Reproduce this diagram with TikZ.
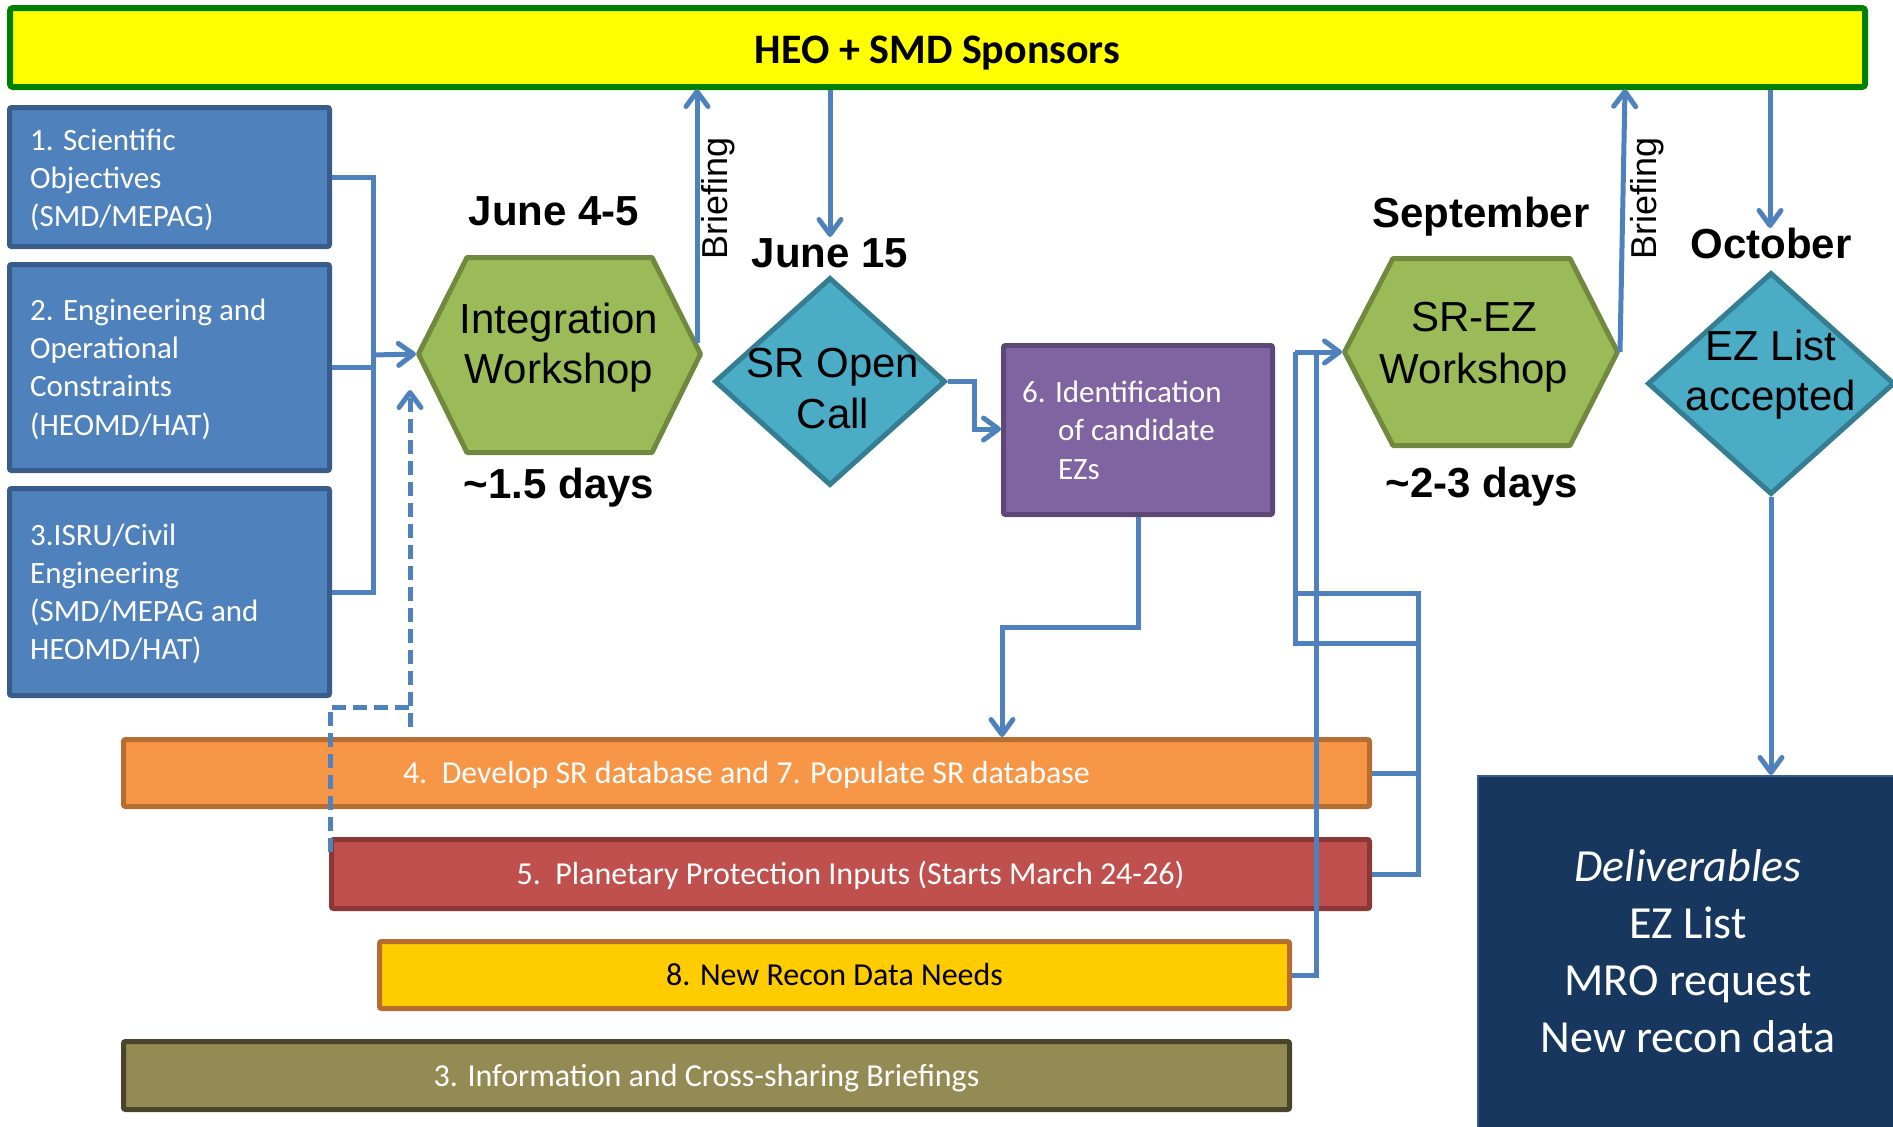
\documentclass[tikz,border=0pt]{standalone}
\usepackage{fontspec}
\setmainfont{Carlito}
\newfontfamily\arialf{Liberation Sans}
\usetikzlibrary{arrows.meta,shapes.geometric}
\definecolor{blueF}{HTML}{4F81BD}
\definecolor{blueD}{HTML}{385D8A}
\definecolor{greenF}{HTML}{9BBB59}
\definecolor{greenD}{HTML}{71893F}
\definecolor{tealF}{HTML}{4BACC6}
\definecolor{tealD}{HTML}{357D91}
\definecolor{purpF}{HTML}{8064A2}
\definecolor{purpD}{HTML}{5C4776}
\definecolor{orF}{HTML}{F79646}
\definecolor{orD}{HTML}{B66D31}
\definecolor{redF}{HTML}{C0504D}
\definecolor{redD}{HTML}{8C3836}
\definecolor{yelF}{HTML}{FFCC00}
\definecolor{oliveF}{HTML}{948A54}
\definecolor{oliveD}{HTML}{4A452A}
\definecolor{navyF}{HTML}{17375E}
\definecolor{sponsF}{HTML}{FFFF00}
\definecolor{sponsD}{HTML}{008000}
\definecolor{connC}{HTML}{4F81BD}
\begin{document}
\begin{tikzpicture}[x=1pt,y=-1pt,
  conn/.style={draw=connC, line width=5pt},
  tipV/.tip={Straight Barb[length=15pt,width=22pt,line width=5pt,round]},
  arr/.style={conn, -tipV},
  dashconn/.style={conn, dash pattern=on 14pt off 7pt},
  boxbase/.style={rectangle, rounded corners=2pt, line width=5pt, inner sep=0pt, outer sep=2.5pt},
  bluebox/.style={boxbase, fill=blueF, draw=blueD},
  barbox/.style={boxbase, font=\fontsize{32}{38}\selectfont, text height=21pt, text depth=0pt},
  hexshape/.style={fill=greenF, draw=greenD, line width=5pt, line join=round},
  diashape/.style={diamond, fill=tealF, draw=tealD, line width=5pt, inner sep=0pt, outer sep=2.5pt},
  bluetxt/.style={anchor=base west, inner sep=0pt, text=white},
  bigtxt/.style={anchor=base, inner sep=0pt, font=\arialf\fontsize{42}{50}\selectfont},
  datelbl/.style={anchor=base, inner sep=0pt, font=\arialf\bfseries\fontsize{42}{50}\selectfont},
  brieflbl/.style={inner sep=0pt, rotate=90, font=\arialf\fontsize{36}{40}\selectfont}
]
\useasboundingbox (0,0) rectangle (1893,1127);

% sponsors bar
\node[boxbase, rounded corners=3pt, line width=6pt, outer sep=3pt, fill=sponsF, draw=sponsD,
      minimum width=1855pt, minimum height=79pt,
      font=\bfseries\fontsize{42}{50}\selectfont, text height=31pt, text depth=0pt] (spons) at (937.5,47.5) {HEO + SMD Sponsors};

% blue input boxes
\node[bluebox, minimum width=320pt, minimum height=139pt] (b1) at (169.5,177) {};
\node[bluebox, minimum width=320pt, minimum height=206pt] (b2) at (169.5,367.5) {};
\node[bluebox, minimum width=320pt, minimum height=207pt] (b3) at (169.5,592) {};
\node[bluetxt] (t1) at (30,150.7) {\parbox[t]{300pt}{\raggedright\fontsize{31}{38}\selectfont 1. Scientific\\Objectives\\(SMD/MEPAG)}};
\node[bluetxt] (t2) at (30,320.7) {\parbox[t]{300pt}{\raggedright\fontsize{31}{38.1}\selectfont 2. Engineering and\\Operational\\Constraints\\(HEOMD/HAT)}};
\node[bluetxt] (t3) at (30,545) {\parbox[t]{300pt}{\raggedright\fontsize{31}{38.3}\selectfont 3.ISRU/Civil\\Engineering\\(SMD/MEPAG and\\HEOMD/HAT)}};

% integration workshop hexagon
\coordinate (h1W) at (416,354);
\coordinate (h1E) at (703,354);
\draw[hexshape] (418.5,354) -- (467,257.5) -- (652,257.5) -- (700.5,354) -- (652,452.5) -- (467,452.5) -- cycle;
\node[bigtxt] (h1) at (559,333) {\parbox[t]{280pt}{\centering\fontsize{42}{50}\selectfont Integration\\Workshop}};
\node[datelbl] (l1) at (554,225) {June 4-5};
\node[datelbl] (l2) at (559,498) {\textasciitilde1.5 days};

% SR open call diamond
\node[diashape, minimum width=231pt, minimum height=208pt] (dm1) at (830,381.5) {};
\node[bigtxt] (dm1t) at (833,377) {\parbox[t]{220pt}{\centering\fontsize{42}{51}\selectfont SR Open\\Call}};
\node[datelbl] (l3) at (830,267) {June 15};

% purple box
\node[boxbase, fill=purpF, draw=purpD, minimum width=269pt, minimum height=169pt] (p6) at (1138,430) {};
\node[bluetxt] (p6t) at (1022,402) {\parbox[t]{250pt}{\raggedright\fontsize{31}{38.5}\selectfont 6. Identification\\\hspace*{36pt}of candidate\\\hspace*{36pt}EZs}};

% SR-EZ workshop hexagon
\coordinate (h2W) at (1342,352);
\coordinate (h2E) at (1620,352);
\draw[hexshape] (1344.5,352) -- (1393,258.5) -- (1570,258.5) -- (1617.5,352) -- (1570,445.5) -- (1393,445.5) -- cycle;
\node[bigtxt] (h2) at (1474,331) {\parbox[t]{280pt}{\centering\fontsize{42}{52}\selectfont SR-EZ\\Workshop}};
\node[datelbl] (l4) at (1481,227) {September};
\node[datelbl] (l5) at (1482,497) {\textasciitilde2-3 days};

% EZ list diamond
\node[diashape, minimum width=247pt, minimum height=222pt] (dm2) at (1771,383.5) {};
\node[bigtxt] (dm2t) at (1771,360) {\parbox[t]{240pt}{\centering\fontsize{42}{50}\selectfont EZ List\\accepted}};
\node[datelbl] (l6) at (1771,258) {October};

% bars
\node[barbox, fill=orF, draw=orD, text=white, minimum width=1246pt, minimum height=67pt] (o4) at (746.5,773) {4.\ \ Develop SR database and 7. Populate SR database};
\node[barbox, fill=redF, draw=redD, text=white, minimum width=1038pt, minimum height=69pt] (r5) at (850.5,874) {5.\ \ Planetary Protection Inputs (Starts March 24-26)};
\node[barbox, fill=yelF, draw=orD, text=black, minimum width=910pt, minimum height=67pt] (y8) at (834.5,975) {8. New Recon Data Needs};
\node[barbox, fill=oliveF, draw=oliveD, text=white, minimum width=1166pt, minimum height=68pt] (ol3) at (706.5,1075.5) {3. Information and Cross-sharing Briefings};

% deliverables
\node[rectangle, fill=navyF, draw=blueD, line width=2pt, inner sep=0pt, outer sep=1pt,
      minimum width=417pt, minimum height=354pt] (dlv) at (1686.5,953) {};
\node[anchor=base, inner sep=0pt, text=white] (dlvt) at (1688,881) {\parbox[t]{400pt}{\centering\fontsize{46}{57.3}\selectfont \textit{Deliverables}\\EZ List\\MRO request\\New recon data}};

% briefing labels
\node[brieflbl] (bf1) at (718,198.5) {Briefing};
\node[brieflbl] (bf2) at (1647,198.5) {Briefing};

% connectors: inputs to integration workshop
\coordinate (j1) at (373,355);
\draw[conn] (b1.east) -- ++(41,0) |- (b3.east);
\draw[conn] (b2.east) -- (b2.east -| j1);
\draw[arr] (j1) -- (h1W);
\coordinate (d1s) at (410,727);
\coordinate (d1t) at (410,390);
\coordinate (d2s) at (330,852);
\coordinate (d2m) at (330,707);
\coordinate (d2e) at (410,707);
\draw[dashconn, -tipV] (d1s) -- (d1t);
\draw[dashconn] (d2s) -- (d2m) -- (d2e);

% briefing 1 and sponsor to June 15
\coordinate (br1s) at (697,343);
\coordinate (br1t) at (697,89);
\draw[arr] (br1s) -- (br1t);
\coordinate (s1) at (830,90);
\coordinate (s1t) at (830,237);
\draw[arr] (s1) -- (s1t);

% SR open call to purple
\coordinate (p6in) at (1001,429);
\draw[arr] (dm1.east) -- ++(26,0) |- (p6in);

% purple to orange bar
\coordinate (o4in) at (1002,737);
\draw[arr] (p6.south) -- ++(0,110) -| (o4in);

% bars to SR-EZ workshop
\coordinate (jv) at (1295,352);
\draw[conn] (o4.east) -- (1418,773) -- (1418,593) -- (1295,593) -- (jv);
\draw[conn] (r5.east) -- (1418,874) -- (1418,643) -- (1295,643) -- (jv);
\draw[conn] (y8.east) -- (1316,975) -- (1316,352);
\draw[arr] (jv) -- (h2W);

% briefing 2, sponsor to October, EZ list to deliverables
\coordinate (br2t) at (1625,89);
\draw[arr] (h2E) -- (br2t);
\coordinate (s2) at (1770,90);
\coordinate (s2t) at (1770,228);
\draw[arr] (s2) -- (s2t);
\draw[arr] (dm2.south) -- (dm2.south |- dlv.north);
\end{tikzpicture}
\end{document}
